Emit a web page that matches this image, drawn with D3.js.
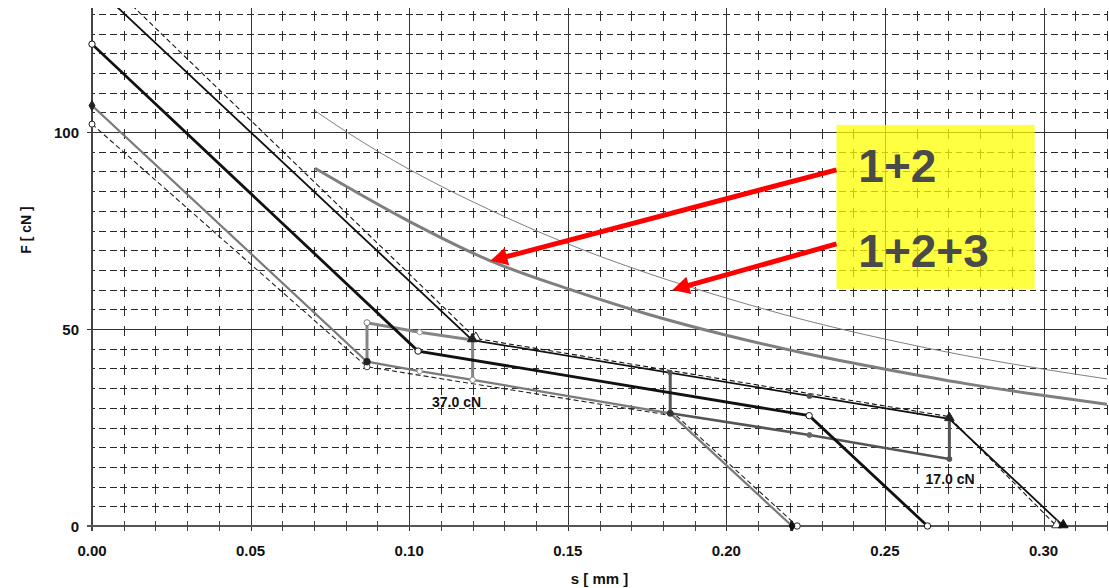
<!DOCTYPE html>
<html>
<head>
<meta charset="utf-8">
<script src="https://cdn.jsdelivr.net/npm/d3@7"></script>
<style>
  html, body { margin: 0; padding: 0; background: #fff; }
  svg { display: block; font-family: "Liberation Sans", Arial, sans-serif; }
</style>
</head>
<body>
<svg id="chart" width="1109" height="588"></svg>
<script>
// ---- data (s in mm, F in cN) ----
const xTicks = [0.00, 0.05, 0.10, 0.15, 0.20, 0.25, 0.30];
const yTicks = [0, 50, 100];

// thick black characteristic
const sA = [0, 0.1028, 0.2261, 0.2634];
const fA = [122.3, 44.4, 28.0, 0];
// thin black characteristic
const sB = [0, 0.1199, 0.2262, 0.2703, 0.3062];
const fB = [137.7, 47.2, 33.0, 27.2, 0];
// dashed black characteristic
const sC = [0, 0.1210, 0.2700, 0.3041];
const fC = [142.0, 47.6, 27.8, 0];
// gray lower characteristic
const sD = [0, 0.0867, 0.1033, 0.1200, 0.1823, 0.2207];
const fD = [106.7, 41.7, 39.3, 37.1, 28.6, 0];
// dark gray continuation
const sD2 = [0.1823, 0.2262, 0.2703];
const fD2 = [28.6, 23.1, 17.0];
// dashed gray characteristic
const sE = [0, 0.0867, 0.1845, 0.2223];
const fE = [102.0, 40.4, 27.8, 0];
// gray upper branch with verticals
const sF = [0.0867, 0.0867, 0.1033, 0.1200, 0.1200];
const fF = [41.7, 51.6, 49.2, 47.2, 37.1];
// dark verticals
const sV1 = [0.1823, 0.1823]; const fV1 = [38.9, 28.6];
const sV2 = [0.2703, 0.2703]; const fV2 = [27.2, 17.0];
// curve "1+2"
const sG = [0.0703, 0.1003, 0.1256, 0.1497, 0.175, 0.200, 0.225, 0.2502, 0.275, 0.3001, 0.3202];
const fG = [90.8, 77.2, 67.3, 60.3, 53.8, 48.4, 43.8, 39.8, 36.2, 33.1, 30.9];
// curve "1+2+3"
const sH = [0.0703, 0.0803, 0.1003, 0.125, 0.1497, 0.175, 0.2002, 0.225, 0.2502, 0.275, 0.3001, 0.3202];
const fH = [105.4, 100.0, 90.4, 80.4, 71.7, 64.2, 57.8, 52.2, 47.4, 43.3, 39.8, 37.3];
// annotations
const forceLabels = [{s: 0.1072, F: 30.3, text: "37.0 cN"}, {s: 0.2628, F: 10.7, text: "17.0 cN"}];
const boxLabels = ["1+2", "1+2+3"];

// ---- scales ----
const svg = d3.select("#chart");
const x = d3.scaleLinear().domain([0, 0.32]).range([92, 1107]);
const y = d3.scaleLinear().domain([0, 131.5]).range([526, 7.9]);
const pts = (s, f) => s.map((v, i) => [v, f[i]]);
const line = d3.line().x(d => x(d[0])).y(d => y(d[1]));
const curve = d3.line().x(d => x(d[0])).y(d => y(d[1])).curve(d3.curveMonotoneX);

svg.append("defs").append("clipPath").attr("id", "plot")
  .append("rect").attr("x", 92).attr("y", y(131.5)).attr("width", x(0.32) - 92).attr("height", 526 - y(131.5));

// ---- grid ----
const grid = svg.append("g").attr("shape-rendering", "crispEdges");
const cellX = x(0.01) - x(0), cellY = y(0) - y(5);
const minorX = d3.range(1, 33).map(i => i / 100).filter((v, i) => (i + 1) % 5 !== 0);
const minorY = d3.range(1, 27).map(i => i * 5).filter(v => v % 50 !== 0);
const periodH = cellX / 3, periodV = cellY;
const dashH = 6.8, dashV = 10;
grid.selectAll(".hm").data(minorY).join("line")
  .attr("x1", x(0)).attr("x2", x(0.32)).attr("y1", d => Math.round(y(d)) + 0.5).attr("y2", d => Math.round(y(d)) + 0.5)
  .attr("stroke", "#2a2a2a").attr("stroke-width", 1)
  .attr("stroke-dasharray", `${dashH},${periodH - dashH}`)
  .attr("stroke-dashoffset", dashH / 2);
grid.selectAll(".vm").data(minorX).join("line")
  .attr("x1", d => Math.round(x(d)) + 0.5).attr("x2", d => Math.round(x(d)) + 0.5).attr("y1", y(0)).attr("y2", y(131.5))
  .attr("stroke", "#2a2a2a").attr("stroke-width", 1)
  .attr("stroke-dasharray", `${dashV},${periodV - dashV}`)
  .attr("stroke-dashoffset", 7);
grid.selectAll(".vM").data([0.05, 0.10, 0.15, 0.20, 0.25, 0.30]).join("line")
  .attr("x1", d => Math.round(x(d)) + 0.5).attr("x2", d => Math.round(x(d)) + 0.5).attr("y1", y(0) + 5).attr("y2", y(131.5))
  .attr("stroke", "#333").attr("stroke-width", 1);
grid.selectAll(".hM").data([50, 100]).join("line")
  .attr("x1", x(0) - 5).attr("x2", x(0.32)).attr("y1", d => Math.round(y(d)) + 0.5).attr("y2", d => Math.round(y(d)) + 0.5)
  .attr("stroke", "#333").attr("stroke-width", 1);
// axes lines
grid.append("line").attr("x1", x(0)).attr("x2", x(0)).attr("y1", y(0) + 5).attr("y2", y(131.5))
  .attr("stroke", "#444").attr("stroke-width", 1.5);
grid.append("line").attr("x1", x(0) - 5).attr("x2", x(0.32)).attr("y1", y(0)).attr("y2", y(0))
  .attr("stroke", "#555").attr("stroke-width", 1.5);
grid.selectAll(".xt").data(minorX).join("line")
  .attr("x1", d => Math.round(x(d)) + 0.5).attr("x2", d => Math.round(x(d)) + 0.5).attr("y1", y(0) - 5).attr("y2", y(0) + 5)
  .attr("stroke", "#444").attr("stroke-width", 1);

// ---- yellow box ----
const bx0 = 0.2347, bx1 = 0.2972, by0 = 101.8, by1 = 60.2;
svg.append("rect").attr("x", x(bx0)).attr("y", y(by0)).attr("width", x(bx1) - x(bx0)).attr("height", y(by1) - y(by0))
  .attr("fill", "#ffff00").attr("fill-opacity", 0.74);

// ---- series ----
const data = svg.append("g").attr("clip-path", "url(#plot)");
data.append("path").datum(pts(sH, fH)).attr("d", curve).attr("fill", "none").attr("stroke", "#808080").attr("stroke-width", 1);
data.append("path").datum(pts(sG, fG)).attr("d", curve).attr("fill", "none").attr("stroke", "#7f7f7f").attr("stroke-width", 3);
data.append("path").datum(pts(sE, fE)).attr("d", line).attr("fill", "none").attr("stroke", "#222").attr("stroke-width", 1.1).attr("stroke-dasharray", "5,3");
data.append("path").datum(pts(sD, fD)).attr("d", line).attr("fill", "none").attr("stroke", "#7a7a7a").attr("stroke-width", 2.2);
data.append("path").datum(pts(sF, fF)).attr("d", line).attr("fill", "none").attr("stroke", "#858585").attr("stroke-width", 3);
data.append("path").datum(pts(sD2, fD2)).attr("d", line).attr("fill", "none").attr("stroke", "#555").attr("stroke-width", 2.6);
data.append("path").datum(pts(sV1, fV1)).attr("d", line).attr("fill", "none").attr("stroke", "#555").attr("stroke-width", 3);
data.append("path").datum(pts(sV2, fV2)).attr("d", line).attr("fill", "none").attr("stroke", "#555").attr("stroke-width", 3);
data.append("path").datum(pts(sC, fC)).attr("d", line).attr("fill", "none").attr("stroke", "#111").attr("stroke-width", 1.1).attr("stroke-dasharray", "5,3");
data.append("path").datum(pts(sB, fB)).attr("d", line).attr("fill", "none").attr("stroke", "#111").attr("stroke-width", 1.8);
data.append("path").datum(pts(sA, fA)).attr("d", line).attr("fill", "none").attr("stroke", "#111").attr("stroke-width", 2.8);

// ---- markers ----
const mk = svg.append("g");
function circ(s, f, r, fill, stroke) {
  mk.append("circle").attr("cx", x(s)).attr("cy", y(f)).attr("r", r).attr("fill", fill).attr("stroke", stroke).attr("stroke-width", 1);
}
function tri(s, f, fill, stroke) {
  mk.append("path").attr("d", d3.symbol(d3.symbolTriangle, 40)()).attr("transform", `translate(${x(s)},${y(f) - 1})`)
    .attr("fill", fill).attr("stroke", stroke).attr("stroke-width", 1);
}
function diam(s, f, fill) {
  mk.append("path").attr("d", d3.symbol(d3.symbolDiamond, 30)()).attr("transform", `translate(${x(s)},${y(f)})`)
    .attr("fill", fill).attr("stroke", fill).attr("stroke-width", 1);
}
circ(sE[0], fE[0], 3, "#fff", "#222");
circ(sE[1], fE[1], 3, "#fff", "#444");
circ(sE[3], fE[3], 3.2, "#fff", "#222");
diam(sD[0], fD[0], "#222");
circ(sD[1], fD[1], 3.3, "#222", "#222");
circ(sD[2], fD[2], 2.6, "#fff", "#999");
circ(sD[3], fD[3], 2.8, "#fff", "#888");
circ(sD[4], fD[4], 3, "#333", "#333");
diam(sD[5], fD[5], "#111");
circ(sF[1], fF[1], 3, "#fff", "#777");
circ(sF[2], fF[2], 2.6, "#fff", "#999");
circ(sD2[1], fD2[1], 2.5, "#666", "#666");
circ(sD2[2], fD2[2], 2.5, "#555", "#555");
circ(sV1[0], fV1[0], 2.3, "#555", "#555");
circ(sB[2], fB[2], 2.5, "#555", "#555");
tri(sC[1], fC[1], "#fff", "#222");
tri(sB[1], fB[1], "#222", "#222");
tri(sB[3], fB[3], "#222", "#222");
tri(sC[3], fC[3], "#fff", "#333");
tri(sB[4], fB[4], "#111", "#111");
sA.forEach((s, i) => circ(s, fA[i], 3.2, "#fff", "#111"));

// ---- arrows ----
const arrows = [
  {from: [0.2347, 90.4], to: [0.1256, 67.3]},
  {from: [0.2347, 71.6], to: [0.1830, 59.9]}
];
arrows.forEach(a => {
  const x0 = x(a.from[0]), y0 = y(a.from[1]), x1 = x(a.to[0]), y1 = y(a.to[1]);
  const dx = x1 - x0, dy = y1 - y0, L = Math.hypot(dx, dy), ux = dx / L, uy = dy / L;
  const hl = 17, hw = 9;
  const bxp = x1 - ux * hl, byp = y1 - uy * hl;
  svg.append("line").attr("x1", x0).attr("y1", y0).attr("x2", bxp + ux * 2).attr("y2", byp + uy * 2)
    .attr("stroke", "#ff0000").attr("stroke-width", 5);
  svg.append("path").attr("d", `M${x1},${y1}L${bxp - uy * hw},${byp + ux * hw}L${bxp + uy * hw},${byp - ux * hw}Z`)
    .attr("fill", "#ff0000");
});

// ---- box labels ----
svg.append("text").attr("x", x(0.2416)).attr("y", y(87.3)).attr("font-size", 46).attr("font-weight", "bold")
  .attr("fill", "#4a4a4a").text(boxLabels[0]);
svg.append("text").attr("x", x(0.2416)).attr("y", y(65.7)).attr("font-size", 46).attr("font-weight", "bold")
  .attr("fill", "#4a4a4a").text(boxLabels[1]);

// ---- force labels ----
forceLabels.forEach(l => {
  svg.append("text").attr("x", x(l.s)).attr("y", y(l.F)).attr("font-size", 14).attr("font-weight", "bold")
    .attr("fill", "#111").text(l.text);
});

// ---- tick labels and titles ----
svg.selectAll(".xl").data(xTicks).join("text")
  .attr("x", d => x(d)).attr("y", 556).attr("text-anchor", "middle")
  .attr("font-size", 15).attr("font-weight", "bold").attr("fill", "#111")
  .text(d => d3.format(".2f")(d));
svg.selectAll(".yl").data(yTicks).join("text")
  .attr("x", 79).attr("y", d => y(d) + 5.5).attr("text-anchor", "end")
  .attr("font-size", 15).attr("font-weight", "bold").attr("fill", "#111")
  .text(d => d);
svg.append("text").attr("x", (x(0) + x(0.32)) / 2).attr("y", 584).attr("text-anchor", "middle")
  .attr("font-size", 15).attr("font-weight", "bold").attr("fill", "#111").text("s [ mm ]");
svg.append("text").attr("transform", "translate(31,230) rotate(-90)").attr("text-anchor", "middle")
  .attr("font-size", 14).attr("font-weight", "bold").attr("fill", "#111").text("F [ cN ]");
</script>
</body>
</html>
